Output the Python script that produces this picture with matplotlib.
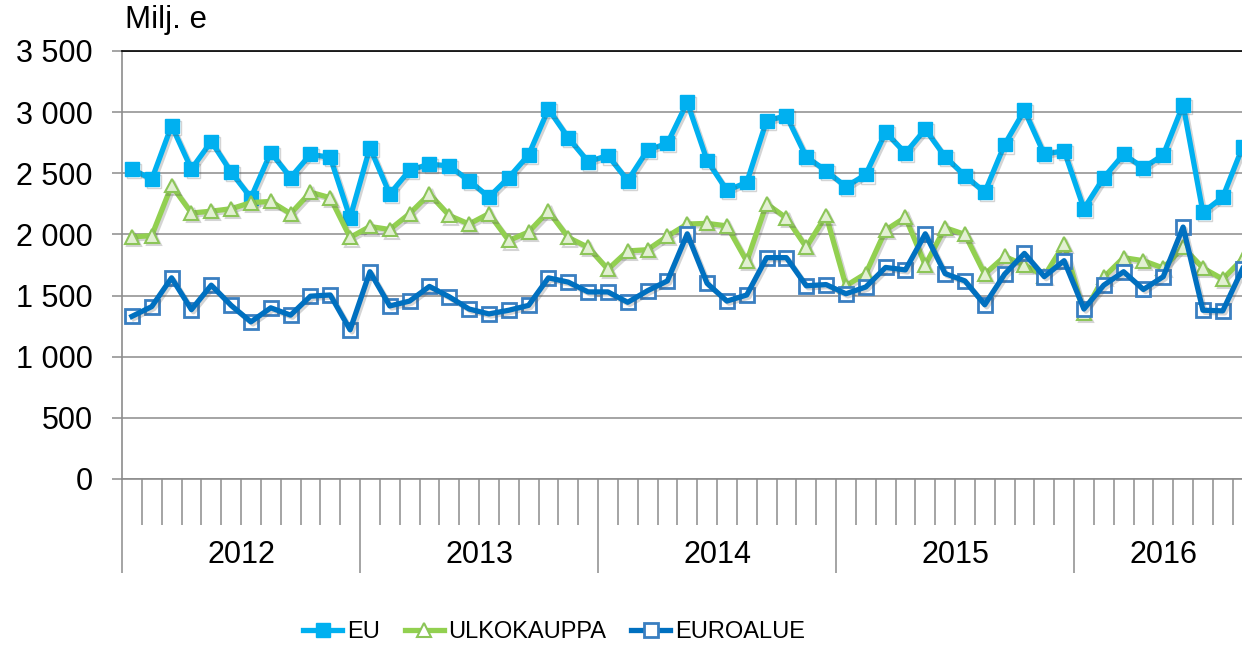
import matplotlib
matplotlib.use("Agg")
import matplotlib.pyplot as plt
import matplotlib.patheffects as pe
from matplotlib.lines import Line2D
from matplotlib.ticker import FuncFormatter
import numpy as np

plt.rcParams['font.family'] = ['Liberation Sans', 'DejaVu Sans']

# monthly values, Jan 2012 - Sep 2016 (milj. e)
years = ['2012', '2013', '2014', '2015', '2016']
months_per_year = [12, 12, 12, 12, 9]

eu = [2535, 2450, 2890, 2535, 2760, 2510, 2300, 2670, 2465, 2655, 2630, 2135,
      2710, 2330, 2525, 2575, 2560, 2440, 2305, 2465, 2650, 3025, 2790, 2595,
      2645, 2440, 2690, 2745, 3080, 2605, 2360, 2425, 2930, 2970, 2635, 2520,
      2390, 2490, 2835, 2665, 2860, 2635, 2480, 2345, 2735, 3015, 2655, 2685,
      2210, 2465, 2655, 2545, 2650, 3060, 2180, 2305, 2715]

ulkokauppa = [1980, 1990, 2400, 2175, 2190, 2210, 2260, 2270, 2170, 2345, 2300, 1975,
              2065, 2040, 2170, 2330, 2155, 2085, 2170, 1950, 2020, 2190, 1975, 1895,
              1715, 1865, 1875, 1985, 2085, 2090, 2070, 1780, 2250, 2135, 1895, 2155,
              1580, 1680, 2035, 2140, 1750, 2055, 2000, 1675, 1820, 1750, 1660, 1920,
              1355, 1650, 1810, 1785, 1725, 1895, 1725, 1635, 1800]

euroalue = [1330, 1410, 1645, 1385, 1585, 1420, 1285, 1400, 1340, 1495, 1505, 1220,
            1695, 1415, 1455, 1575, 1490, 1390, 1350, 1380, 1420, 1645, 1610, 1530,
            1530, 1445, 1540, 1620, 2005, 1600, 1455, 1505, 1810, 1810, 1580, 1590,
            1515, 1570, 1730, 1710, 2005, 1680, 1620, 1425, 1675, 1845, 1655, 1785,
            1390, 1585, 1695, 1550, 1655, 2060, 1380, 1375, 1720]

x = np.arange(len(eu))

fig = plt.figure(figsize=(12.42, 6.45), dpi=100)
ax = fig.add_axes([122 / 1242, 1 - 479 / 645, 1 - 122 / 1242, 428 / 645])

grid_c = '#8c8c8c'
shadow = [pe.SimpleLineShadow(offset=(1.5, -1.5), alpha=0.25, shadow_color='#555555'), pe.Normal()]

ax.plot(x, eu, color='#00b0f0', lw=3.8, marker='s', ms=10, mfc='#00b0f0', mec='#00b0f0',
        zorder=3, path_effects=shadow)
ax.plot(x, ulkokauppa, color='#92d050', lw=3.8, marker='^', ms=10, mfc='#e2f0d2', mec='#8cc558',
        mew=1.5, zorder=4, path_effects=shadow)
ax.plot(x, euroalue, ls='none', marker='s', ms=9.5, mfc='white', mec='#3a7fc1', mew=2, zorder=5)
ax.plot(x, euroalue, color='#0070c0', lw=3.8, zorder=6, path_effects=shadow)

ax.set_ylim(0, 3500)
ax.set_xlim(-0.5, 55.97)
ax.set_yticks(np.arange(0, 3501, 500))
ax.yaxis.set_major_formatter(FuncFormatter(lambda v, p: f"{v:,.0f}".replace(",", " ")))
ax.grid(axis='y', color=grid_c, lw=1.1)
ax.set_axisbelow(True)

ax.spines['right'].set_visible(False)
ax.spines['top'].set_color('black')
ax.spines['top'].set_linewidth(1.2)
ax.spines['left'].set_color(grid_c)
ax.spines['bottom'].set_color(grid_c)
ax.spines['left'].set_linewidth(1.2)
ax.spines['bottom'].set_linewidth(1.2)

ax.tick_params(axis='y', length=7, width=1.1, color=grid_c, pad=14, labelsize=22)

# x axis: month separators and longer year separators
starts = np.cumsum([0] + months_per_year)
year_bounds = starts[:-1] - 0.5
month_bounds = [b - 0.5 for b in range(1, len(eu)) if b not in starts]
ax.set_xticks(year_bounds)
ax.set_xticks(month_bounds, minor=True)
ax.set_xticklabels([])
ax.tick_params(axis='x', which='major', length=67.7, width=1.1, color=grid_c)
ax.tick_params(axis='x', which='minor', length=33, width=1.1, color=grid_c)

for k, yr in enumerate(years):
    center = (starts[k] + starts[k + 1] - 1) / 2
    ax.text(center, -0.178, yr, transform=ax.get_xaxis_transform(), ha='center', va='center',
            fontsize=22)

fig.text(125 / 1242, 1 - 20 / 645, 'Milj. e', fontsize=22.5, va='center', ha='left')

handles = [
    Line2D([], [], color='#00b0f0', lw=3.8, marker='s', ms=10, mfc='#00b0f0', mec='#00b0f0'),
    Line2D([], [], color='#92d050', lw=3.8, marker='^', ms=10, mfc='white', mec='#8cc558', mew=1.5),
    Line2D([], [], color='#0070c0', lw=3.8, marker='s', ms=9.5, mfc='white', mec='#3a7fc1', mew=2),
]
fig.legend(handles, ['EU', 'ULKOKAUPPA', 'EUROALUE'], loc='center',
           bbox_to_anchor=(554 / 1242, 1 - 632 / 645), ncol=3, frameon=False,
           prop={'size': 17}, handlelength=1.65, handletextpad=0.2, columnspacing=1.05)

fig.savefig('out.png', dpi=100)
